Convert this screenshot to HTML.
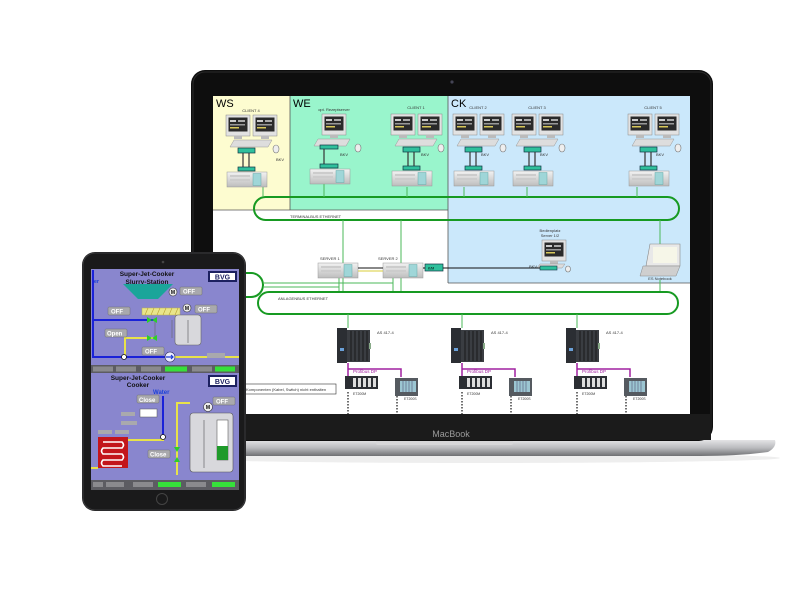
<!DOCTYPE html>
<html><head><meta charset="utf-8"><style>
html,body{margin:0;padding:0;background:#fff;}
svg{display:block;font-family:"Liberation Sans",sans-serif;}
</style></head><body>
<svg width="800" height="600" viewBox="0 0 800 600" xmlns="http://www.w3.org/2000/svg">
<defs>
 <linearGradient id="base" x1="0" y1="0" x2="0" y2="1"><stop offset="0" stop-color="#e4e4e6"/><stop offset="0.5" stop-color="#b9babd"/><stop offset="1" stop-color="#6f7073"/></linearGradient>
 <linearGradient id="srv" x1="0" y1="0" x2="0" y2="1"><stop offset="0" stop-color="#f2f2f2"/><stop offset="1" stop-color="#bdbdbd"/></linearGradient>
 <g id="mon">
  <rect x="0" y="0" width="24" height="21" fill="#e2e2e2" stroke="#888" stroke-width="0.5"/>
  <rect x="2.5" y="2.5" width="19" height="14" fill="#2a2a2a"/>
  <rect x="4" y="5" width="6" height="2" fill="#ccc"/><rect x="12" y="5" width="7" height="2" fill="#aaa"/>
  <rect x="4" y="9" width="15" height="1.5" fill="#999"/><rect x="4" y="12" width="9" height="1.5" fill="#d8c85a"/>
  <rect x="8" y="21" width="8" height="3" fill="#bbb"/>
 </g>
 <g id="srvbox">
  <rect x="0" y="0" width="40" height="15" fill="url(#srv)" stroke="#999" stroke-width="0.5"/>
  <rect x="3" y="3" width="20" height="2" fill="#ccc"/><rect x="3" y="7" width="20" height="2" fill="#ccc"/>
  <rect x="26" y="1.5" width="8" height="12" fill="#9fd6d8" stroke="#6aa" stroke-width="0.5"/>
 </g>
 <g id="client2">
  <use href="#mon" x="0" y="0"/><use href="#mon" x="27" y="0"/>
  <polygon points="8,25 46,25 42,32 4,32" fill="#ddd" stroke="#999" stroke-width="0.5"/>
  <ellipse cx="50" cy="34" rx="3" ry="4" fill="#eee" stroke="#777" stroke-width="0.6"/>
  <rect x="12" y="33" width="17" height="5" fill="#2fc09c" stroke="#134" stroke-width="0.7"/>
  <line x1="17" y1="38" x2="17" y2="52" stroke="#333" stroke-width="1.2"/><line x1="23" y1="38" x2="23" y2="52" stroke="#333" stroke-width="1.2"/>
  <rect x="12" y="52" width="17" height="4" fill="#2fc09c" stroke="#134" stroke-width="0.7"/>
  <use href="#srvbox" x="1" y="57"/>
 </g>
 <g id="plc">
  <rect x="0" y="0" width="10" height="35" fill="#2b2e33"/>
  <rect x="10" y="2" width="23" height="32" fill="#3a3d42"/>
  <g stroke="#111" stroke-width="0.8"><line x1="14" y1="3" x2="14" y2="33"/><line x1="18" y1="3" x2="18" y2="33"/><line x1="22" y1="3" x2="22" y2="33"/><line x1="26" y1="3" x2="26" y2="33"/><line x1="30" y1="3" x2="30" y2="33"/></g>
  <rect x="3" y="20" width="4" height="3" fill="#6aa0d8"/>
  <rect x="32" y="15" width="2" height="6" fill="#8a8"/>
 </g>
 <g id="et">
  <rect x="0" y="0" width="33" height="13" fill="#2b2e33"/>
  <g fill="#ddd"><rect x="8" y="2" width="3" height="9"/><rect x="13" y="2" width="3" height="9"/><rect x="18" y="2" width="3" height="9"/><rect x="23" y="2" width="3" height="9"/><rect x="28" y="2" width="3" height="9"/></g>
 </g>
 <g id="ets">
  <rect x="0" y="0" width="23" height="18" fill="#555a60"/>
  <rect x="5" y="3" width="16" height="11" fill="#9cc6d2"/>
  <g stroke="#557" stroke-width="0.6"><line x1="8" y1="3" x2="8" y2="14"/><line x1="11" y1="3" x2="11" y2="14"/><line x1="14" y1="3" x2="14" y2="14"/><line x1="17" y1="3" x2="17" y2="14"/></g>
 </g>
 <g id="dd">
  <rect x="0" y="0" width="22" height="8" rx="1" fill="#a9a9ad" stroke="#666" stroke-width="0.4"/>
 </g>
</defs>

<!-- laptop shadow -->
<ellipse cx="480" cy="458" rx="300" ry="5" fill="#eee"/>
<!-- laptop base -->
<path d="M200,440 L775,440 Q777,447 768,452 Q740,456 700,456 L210,456 Z" fill="url(#base)"/>
<rect x="376" y="440" width="137" height="5" rx="2" fill="#d6d6d8"/>
<!-- lid -->
<rect x="191" y="70" width="522" height="371" rx="14" fill="#0e0e0e"/>
<rect x="193" y="72" width="518" height="367" rx="12" fill="none" stroke="#2a2a2a" stroke-width="1"/>
<rect x="193" y="414" width="518" height="26" fill="#1b1b1b"/>
<circle cx="452" cy="82" r="1.6" fill="#445"/>
<text x="451" y="437" font-size="9" fill="#9a9a9a" text-anchor="middle">MacBook</text>

<!-- screen -->
<rect x="213" y="96" width="477" height="318" fill="#fff"/>
<rect x="213" y="96" width="77" height="114" fill="#fdfcd0"/>
<rect x="290" y="96" width="158" height="114" fill="#99f5cc"/>
<rect x="448" y="96" width="242" height="187" fill="#cbe8fb"/>
<g stroke="#555" stroke-width="0.8" fill="none">
 <line x1="290" y1="96" x2="290" y2="210"/>
 <line x1="448" y1="96" x2="448" y2="283"/>
 <line x1="213" y1="210" x2="448" y2="210"/>
 <line x1="448" y1="283" x2="690" y2="283"/>
</g>
<text x="216" y="107" font-size="11" fill="#000">WS</text>
<text x="293" y="107" font-size="11" fill="#000">WE</text>
<text x="451" y="107" font-size="11" fill="#000">CK</text>

<!-- terminal bus ring -->
<rect x="254" y="197" width="425" height="23" rx="11.5" fill="none" stroke="#179a22" stroke-width="2"/>
<text x="290" y="218" font-size="4" fill="#333">TERMINALBUS ETHERNET</text>
<g stroke="#4bb85a" stroke-width="1">
 <line x1="263" y1="187" x2="263" y2="197"/><line x1="324" y1="184" x2="324" y2="197"/>
 <line x1="407" y1="187" x2="407" y2="197"/><line x1="464" y1="187" x2="464" y2="197"/>
 <line x1="527" y1="187" x2="527" y2="197"/><line x1="637" y1="187" x2="637" y2="197"/>
 <line x1="343" y1="220" x2="343" y2="292"/><line x1="401" y1="220" x2="401" y2="292"/>
 <line x1="660" y1="220" x2="660" y2="245"/><line x1="660" y1="280" x2="660" y2="292"/>
 <line x1="339" y1="277" x2="339" y2="292"/><line x1="393" y1="277" x2="393" y2="292"/>
</g>

<!-- clients -->
<use href="#client2" x="226" y="115"/>
<text x="251" y="112" font-size="4" fill="#333" text-anchor="middle">CLIENT 4</text>
<text x="276" y="161" font-size="4" fill="#333">BKV</text>

<g>
 <use href="#mon" x="322" y="114"/>
 <polygon points="318,139 350,139 346,146 314,146" fill="#ddd" stroke="#999" stroke-width="0.5"/>
 <ellipse cx="358" cy="148" rx="3" ry="4" fill="#eee" stroke="#777" stroke-width="0.6"/>
 <rect x="320" y="145" width="18" height="4" fill="#2fc09c" stroke="#134" stroke-width="0.7"/>
 <line x1="324" y1="149" x2="324" y2="164" stroke="#333" stroke-width="1.2"/>
 <rect x="320" y="164" width="18" height="4" fill="#2fc09c" stroke="#134" stroke-width="0.7"/>
 <use href="#srvbox" x="310" y="169"/>
 <text x="334" y="111" font-size="4" fill="#333" text-anchor="middle">opt. Rezeptserver</text>
 <text x="340" y="156" font-size="4" fill="#333">BKV</text>
</g>

<use href="#client2" x="391" y="114"/>
<text x="416" y="109" font-size="4" fill="#333" text-anchor="middle">CLIENT 1</text>
<text x="421" y="156" font-size="4" fill="#333">BKV</text>
<use href="#client2" x="453" y="114"/>
<text x="478" y="109" font-size="4" fill="#333" text-anchor="middle">CLIENT 2</text>
<text x="481" y="156" font-size="4" fill="#333">BKV</text>
<use href="#client2" x="512" y="114"/>
<text x="537" y="109" font-size="4" fill="#333" text-anchor="middle">CLIENT 3</text>
<text x="540" y="156" font-size="4" fill="#333">BKV</text>
<use href="#client2" x="628" y="114"/>
<text x="653" y="109" font-size="4" fill="#333" text-anchor="middle">CLIENT 5</text>
<text x="656" y="156" font-size="4" fill="#333">BKV</text>

<!-- Bedienplatz -->
<text x="550" y="232" font-size="4" fill="#333" text-anchor="middle">Bedienplatz</text>
<text x="550" y="237" font-size="4" fill="#333" text-anchor="middle">Server 1/2</text>
<use href="#mon" x="542" y="240"/>
<polygon points="540,264 565,264 562,268 537,268" fill="#ddd" stroke="#999" stroke-width="0.5"/>
<ellipse cx="568" cy="269" rx="2.5" ry="3" fill="#eee" stroke="#777" stroke-width="0.6"/>
<rect x="540" y="266" width="17" height="4" fill="#2fc09c" stroke="#134" stroke-width="0.6"/>
<text x="529" y="268" font-size="4" fill="#333">BKV</text>
<!-- notebook -->
<polygon points="650,244 680,244 680,266 646,266" fill="#e8e8e8" stroke="#888" stroke-width="0.6"/>
<rect x="653" y="247" width="24" height="16" fill="#f6f6e8"/>
<polygon points="643,266 680,266 676,276 640,276" fill="#cfcfcf" stroke="#888" stroke-width="0.5"/>
<text x="660" y="280" font-size="4" fill="#333" text-anchor="middle">ES Notebook</text>

<!-- servers -->
<use href="#srvbox" x="318" y="263"/>
<use href="#srvbox" x="383" y="263"/>
<text x="320" y="260" font-size="4" fill="#333">SERVER 1</text>
<text x="378" y="260" font-size="4" fill="#333">SERVER 2</text>
<line x1="358" y1="268" x2="383" y2="268" stroke="#111" stroke-width="1"/>
<line x1="358" y1="271" x2="383" y2="271" stroke="#d8cc3a" stroke-width="1"/>
<rect x="425" y="264" width="18" height="7" fill="#2fc09c" stroke="#134" stroke-width="0.7"/>
<text x="428" y="269.5" font-size="3.5" fill="#000">K/M</text>
<line x1="423" y1="268" x2="425" y2="268" stroke="#111"/>
<line x1="443" y1="268" x2="540" y2="268" stroke="#111" stroke-width="1"/>

<!-- small left ring -->
<rect x="230" y="273" width="33" height="24" rx="12" fill="none" stroke="#179a22" stroke-width="2"/>
<g stroke="#4bb85a" stroke-width="1"><line x1="263" y1="283" x2="393" y2="283"/><line x1="263" y1="287" x2="339" y2="287"/></g>

<!-- anlagenbus -->
<rect x="258" y="292" width="420" height="22" rx="11" fill="none" stroke="#179a22" stroke-width="2"/>
<text x="278" y="300" font-size="4" fill="#333">ANLAGENBUS ETHERNET</text>
<g stroke="#4bb85a" stroke-width="1">
 <line x1="348" y1="314" x2="348" y2="328"/><line x1="462" y1="314" x2="462" y2="328"/><line x1="577" y1="314" x2="577" y2="328"/>
</g>

<!-- PLC groups -->
<g id="grp">
 <use href="#plc" x="337" y="328"/>
 <text x="377" y="334" font-size="4" fill="#333">AS 417-4</text>
 <path d="M348,363 V377 M348,369 H401 V377" stroke="#a020a0" stroke-width="1.5" fill="none"/>
 <text x="353" y="373" font-size="4.5" fill="#a020a0">Profibus DP</text>
 <use href="#et" x="345" y="376"/>
 <use href="#ets" x="395" y="378"/>
 <text x="353" y="395" font-size="3.5" fill="#333">ET200M</text>
 <text x="404" y="400" font-size="3.5" fill="#333">ET200S</text>
 <line x1="348" y1="392" x2="348" y2="414" stroke="#111" stroke-width="1.2" stroke-dasharray="1.5,1.5"/>
 <line x1="397" y1="396" x2="397" y2="414" stroke="#111" stroke-width="1.2" stroke-dasharray="1.5,1.5"/>
</g>
<use href="#grp" x="114" y="0"/>
<use href="#grp" x="229" y="0"/>

<rect x="232" y="384" width="104" height="10" fill="#fff" stroke="#333" stroke-width="0.6"/>
<text x="246" y="391" font-size="4" fill="#333">Komponenten (Kabel, Switch) nicht enthalten</text>

<!-- TABLET -->
<rect x="82" y="252" width="164" height="259" rx="13" fill="#1a1a1b"/>
<rect x="83" y="253" width="162" height="257" rx="12" fill="none" stroke="#3a3a3c" stroke-width="1"/>
<circle cx="163" cy="262" r="1.3" fill="#444"/>
<circle cx="162" cy="499" r="5.5" fill="none" stroke="#444" stroke-width="1"/>
<g>
 <rect x="91" y="269" width="148" height="221" fill="#8986ce"/>
 <!-- top panel -->
 <text x="147" y="276" font-size="6.5" font-weight="bold" fill="#111" text-anchor="middle">Super-Jet-Cooker</text>
 <text x="147" y="284" font-size="6.5" font-weight="bold" fill="#111" text-anchor="middle">Slurry-Station</text>
 <rect x="208" y="271" width="29" height="11" fill="#1c2060"/><rect x="210" y="273" width="25" height="7" fill="#fff"/>
 <text x="222.5" y="279.5" font-size="7" font-weight="bold" fill="#1c2060" text-anchor="middle">BVG</text>
 <text x="92" y="283" font-size="5.5" font-weight="bold" fill="#1b40d8">ter</text>
 <polygon points="123,284 173,284 158,299 138,299" fill="#1aa59a"/>
 <rect x="142" y="308" width="38" height="7" fill="#e9e58a" stroke="#b8b050" stroke-width="0.5"/>
 <path d="M145,315 l3,-7 m3,7 l3,-7 m3,7 l3,-7 m3,7 l3,-7 m3,7 l3,-7 m3,7 l3,-7" stroke="#b8a030" stroke-width="0.6"/>
 <!-- pipes -->
 <g stroke="#1a22d8" stroke-width="2" fill="none"><path d="M93,270 V357 H170"/><path d="M93,320 H155"/></g>
 <g stroke="#e8e24a" stroke-width="2" fill="none"><path d="M155,338 H125 V357"/><path d="M172,357 H239"/></g>
 <g stroke="#666" stroke-width="0.6" fill="none"><path d="M155,320 V338"/><path d="M172,320 V338"/></g>
 <rect x="175" y="315" width="26" height="30" rx="3" fill="#d8d8dc" stroke="#666" stroke-width="0.6"/>
 <line x1="188" y1="320" x2="188" y2="343" stroke="#555" stroke-width="0.6"/>
 <g fill="#2ad02a"><polygon points="147,317 152,320 147,323"/><polygon points="157,317 152,320 157,323"/><polygon points="147,335 152,338 147,341"/><polygon points="157,335 152,338 157,341"/></g>
 <circle cx="173" cy="292" r="4" fill="#eee" stroke="#333" stroke-width="0.6"/><text x="173" y="294" font-size="5" text-anchor="middle" font-weight="bold">M</text>
 <circle cx="187" cy="308" r="4" fill="#eee" stroke="#333" stroke-width="0.6"/><text x="187" y="310" font-size="5" text-anchor="middle" font-weight="bold">M</text>
 <circle cx="170" cy="357" r="5" fill="#eef" stroke="#225" stroke-width="0.6"/><path d="M166,357 h7 m-2,-2 l2,2 l-2,2" stroke="#1a3ad0" stroke-width="1.2" fill="none"/>
 <circle cx="124" cy="357" r="2.5" fill="#fff" stroke="#111" stroke-width="0.8"/>
 <use href="#dd" x="180" y="287"/><text x="183" y="293.5" font-size="6" font-weight="bold" fill="#fff">OFF</text>
 <use href="#dd" x="108" y="307"/><text x="111" y="313.5" font-size="6" font-weight="bold" fill="#fff">OFF</text>
 <use href="#dd" x="195" y="305"/><text x="198" y="311.5" font-size="6" font-weight="bold" fill="#fff">OFF</text>
 <use href="#dd" x="105" y="329"/><text x="107" y="335.5" font-size="6" font-weight="bold" fill="#fff">Open</text>
 <use href="#dd" x="142" y="347"/><text x="145" y="353.5" font-size="6" font-weight="bold" fill="#fff">OFF</text>
 <rect x="207" y="353" width="18" height="5" fill="#a9a9ad"/>
 <!-- divider bar -->
 <rect x="91" y="365" width="148" height="8" fill="#5c5c62"/>
 <g fill="#8a8a8e"><rect x="93" y="366.5" width="20" height="5"/><rect x="116" y="366.5" width="20" height="5"/><rect x="141" y="366.5" width="20" height="5"/><rect x="192" y="366.5" width="20" height="5"/></g>
 <g fill="#36e03a"><rect x="165" y="366.5" width="22" height="5"/><rect x="215" y="366.5" width="20" height="5"/></g>
 <!-- bottom panel -->
 <text x="138" y="380" font-size="6.5" font-weight="bold" fill="#111" text-anchor="middle">Super-Jet-Cooker</text>
 <text x="138" y="387" font-size="6.5" font-weight="bold" fill="#111" text-anchor="middle">Cooker</text>
 <rect x="208" y="375" width="29" height="12" fill="#1c2060"/><rect x="210" y="377" width="25" height="8" fill="#fff"/>
 <text x="222.5" y="384" font-size="7" font-weight="bold" fill="#1c2060" text-anchor="middle">BVG</text>
 <text x="153" y="394" font-size="6" font-weight="bold" fill="#1b40d8">Water</text>
 <line x1="163" y1="396" x2="163" y2="436" stroke="#1a22d8" stroke-width="2"/>
 <g stroke="#e8e24a" stroke-width="2" fill="none"><path d="M190,403 H177 V475"/><path d="M91,468 H98"/><path d="M128,440 H163 V436"/></g>
 <use href="#dd" x="137" y="395"/><text x="139" y="402" font-size="6" font-weight="bold" fill="#fff">Close</text>
 <use href="#dd" x="213" y="397"/><text x="216" y="403.5" font-size="6" font-weight="bold" fill="#fff">OFF</text>
 <circle cx="208" cy="407" r="4.5" fill="#eee" stroke="#333" stroke-width="0.6"/><text x="208" y="409" font-size="5" text-anchor="middle" font-weight="bold">M</text>
 <rect x="140" y="409" width="17" height="8" fill="#fff" stroke="#555" stroke-width="0.5"/>
 <rect x="121" y="412" width="14" height="4" fill="#a9a9ad"/><rect x="121" y="421" width="16" height="4" fill="#a9a9ad"/>
 <rect x="98" y="430" width="14" height="4" fill="#a9a9ad"/><rect x="115" y="430" width="14" height="4" fill="#a9a9ad"/>
 <rect x="190" y="413" width="43" height="59" rx="3" fill="#d8d8dc" stroke="#555" stroke-width="0.6"/>
 <rect x="217" y="420" width="11" height="40" fill="#fff" stroke="#444" stroke-width="0.5"/>
 <rect x="217" y="446" width="11" height="14" fill="#1f9a2a"/>
 <line x1="204" y1="420" x2="204" y2="468" stroke="#555" stroke-width="0.6"/>
 <rect x="98" y="437" width="30" height="31" fill="#c3151b"/>
 <path d="M103,442 H122 Q125,445 122,448 H103 Q100,451 103,454 H122 Q125,457 122,460 H103 Q100,463 103,466 H122" stroke="#fff" stroke-width="1.6" fill="none"/>
 <use href="#dd" x="148" y="450"/><text x="150" y="456.5" font-size="6" font-weight="bold" fill="#fff">Close</text>
 <g fill="#2ad02a"><polygon points="174,447 180,447 177,452"/><polygon points="174,462 180,462 177,457"/></g>
 <circle cx="163" cy="437" r="2.5" fill="#fff" stroke="#111" stroke-width="0.8"/>
 <rect x="91" y="480" width="148" height="10" fill="#5c5c62"/>
 <g fill="#8a8a8e"><rect x="93" y="482" width="10" height="5"/><rect x="106" y="482" width="18" height="5"/><rect x="133" y="482" width="20" height="5"/><rect x="186" y="482" width="20" height="5"/></g>
 <g fill="#36e03a"><rect x="158" y="482" width="23" height="5"/><rect x="212" y="482" width="23" height="5"/></g>
</g>
</svg>
</body></html>
